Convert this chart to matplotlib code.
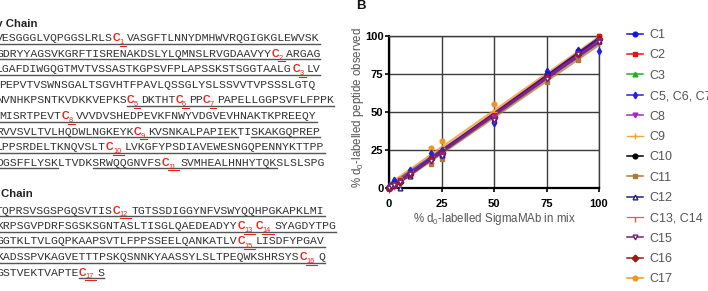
import re
import matplotlib
matplotlib.use("Agg")
import matplotlib.pyplot as plt
import numpy as np
from matplotlib.lines import Line2D

plt.rcParams['font.family'] = ['Liberation Sans', 'DejaVu Sans']
plt.rcParams['mathtext.default'] = 'regular'

# ---------------- data ----------------
heavy_lines = [
    "VESGGGLVQPGGSLRLS{1}VASGFTLNNYDMHWVRQGIGKGLEWVSK",
    "GDRYYAGSVKGRFTISRENAKDSLYLQMNSLRVGDAAVYY{2}ARGAG",
    "LGAFDIWGQGTMVTVSSASTKGPSVFPLAPSSKSTSGGTAALG{3}LV",
    "PEPVTVSWNSGALTSGVHTFPAVLQSSGLYSLSSVVTVPSSSLGTQ",
    "NVNHKPSNTKVDKKVEPKS{5}DKTHT{6}PP{7}PAPELLGGPSVFLFPPK",
    "MISRTPEVT{8}VVVDVSHEDPEVKFNWYVDGVEVHNAKTKPREEQY",
    "RVVSVLTVLHQDWLNGKEYK{9}KVSNKALPAPIEKTISKAKGQPREP",
    "LPPSRDELTKNQVSLT{10}LVKGFYPSDIAVEWESNGQPENNYKTTPP",
    "DGSFFLYSKLTVDKSRWQQGNVFS{11}SVMHEALHNHYTQKSLSLSPG",
]
heavy_underlined = [[(0, 45)], [(0, 45)], [(0, 45)], [], [(19, 45)],
                    [(0, 44)], [(0, 33), (36, 45)], [(0, 45)], [(0, 8), (14, 38)]]
light_lines = [
    "TQPRSVSGSPGQSVTIS{12}TGTSSDIGGYNFVSWYQQHPGKAPKLMI",
    "KRPSGVPDRFSGSKSGNTASLTISGLQAEDEADYY{13}{14}SYAGDYTPG",
    "GGTKLTVLGQPKAAPSVTLFPPSSEELQANKATLV{15}LISDFYPGAV",
    "KADSSPVKAGVETTTPSKQSNNKYAASSYLSLTPEQWKSHRSYS{16}Q",
    "GSTVEKTVAPTE{17}S",
]
light_underlined = [[(0, 45)], [(0, 45)], [(0, 45)], [(0, 45)], [(12, 13)]]

x_pct = [0, 1, 2.5, 5, 10, 20, 25, 50, 75, 90, 100]
series_labels = ["C1", "C2", "C3", "C5, C6, C7", "C8", "C9", "C10", "C11",
                 "C12", "C13, C14", "C15", "C16", "C17"]
y_C1 = [0, 1, 3, 4, 9, 19, 22, 46, 75, 90, 98]
y_C2 = [0, 1, 2, 5, 10, 20, 24, 48, 74, 88, 100]
y_C3 = [0, 1, 2, 5, 9, 18, 23, 47, 73, 88, 98]
y_C5 = [1, 2, 5, 4, 12, 23, 25, 43, 77, 91, 90]
y_C8 = [0, 1, 2, 4, 9, 18, 22, 47, 72, 88, 97]
y_C9 = [0, 2, 3, 6, 10, 21, 26, 50, 74, 88, 99]
y_C10 = [0, 1, 2, 4, 9, 19, 23, 47, 74, 89, 98]
y_C11 = [0, 1, 2, 4, 8, 16, 19, 46, 70, 84, 96]
y_C12 = [0, 2, 3, 0, 8, 21, 22, 45, 76, 91, 97]
y_C13 = [0, 1, 2, 4, 9, 18, 22, 46, 72, 87, 97]
y_C15 = [0, 1, 2, 4, 9, 18, 21, 45, 72, 88, 96]
y_C16 = [0, 1, 2, 4, 9, 19, 23, 47, 73, 88, 98]
y_C17 = [0, 2, 4, 6, 11, 26, 31, 55, 73, 87, 100]
series_values = [y_C1, y_C2, y_C3, y_C5, y_C8, y_C9, y_C10, y_C11,
                 y_C12, y_C13, y_C15, y_C16, y_C17]

# ---------------- styles ----------------
colors = ['#1414e6', '#e61414', '#22b022', '#2424d8', '#a424c8', '#f0a53a',
          '#000000', '#a87d36', '#20208e', '#e05a5a', '#702070', '#a01616', '#f39422']
markers = ['o', 's', '^', 'd', 'v', '+', 'o', 's', '^', 3, 'v', 'D', 'o']
face = ['fill'] * 13
face[8] = 'white'
face[10] = 'white'
lwidths = [1.5] * 13
lwidths[9] = 0.9
lwidths[5] = 1.0
line_z = [3.5, 3.2, 3.1, 3.45, 3.85, 3.0, 3.3, 3.35, 3.4, 3.75, 3.9, 3.8, 3.05]

W, H = 708, 291
fig = plt.figure(figsize=(W / 100, H / 100), dpi=100)


def fx(x):
    return x / W


def fy(y):
    return 1 - y / H


# ---------------- left: sequences ----------------
ADV = 6.9
MONO_PT = ADV / 0.6 * 72 / 100
SEQ_COLOR = '#333333'
RED = '#e8231f'


def sub_w(num):
    return 7.0 if len(num) == 1 else 11.5


def draw_seq(line, ycen, spans, shift=0.0):
    base = ycen + 4
    tokens = re.findall(r'\{(\d+)\}|([A-Z])', line)
    x = -4 + shift
    cells = []
    buf, buf_x = '', x

    def flush(b, bx):
        if b:
            fig.text(fx(bx), fy(base), b, family='Liberation Mono', size=MONO_PT,
                     color=SEQ_COLOR, va='baseline', ha='left')

    for num, ch in tokens:
        if ch:
            if not buf:
                buf_x = x
            buf += ch
            cells.append((x, x + ADV))
            x += ADV
        else:
            flush(buf, buf_x)
            buf = ''
            fig.text(fx(x + ADV / 2), fy(base), 'C', ha='center', va='baseline',
                     weight='bold', size=7.6, color=RED)
            sw = sub_w(num)
            fig.text(fx(x + ADV - 0.3), fy(base + 3), num, ha='left', va='baseline',
                     size=5.3, color=RED)
            fig.add_artist(Line2D([fx(x + ADV - 0.5), fx(x + ADV + sw - 0.8)],
                                  [fy(base + 4.5)] * 2, transform=fig.transFigure,
                                  color=RED, lw=0.8))
            cells.append((x, x + ADV + sw))
            x += ADV + sw
    flush(buf, buf_x)
    for a, b in spans:
        fig.add_artist(Line2D([fx(cells[a][0]), fx(cells[b][1])], [fy(base + 2.6)] * 2,
                              transform=fig.transFigure, color='#555555', lw=1.0))


fig.text(fx(37.5), fy(27), 'Heavy Chain', ha='right', va='baseline', weight='bold',
         size=8.2, color='#222222')
heavy_shift = [0, 0, 0, 3.5, 0, 3.5, 0, 0, 0]
for i, (ln, sp) in enumerate(zip(heavy_lines, heavy_underlined)):
    draw_seq(ln, 37 + 15.6 * i, sp, heavy_shift[i])

fig.text(fx(32.5), fy(197), 'Light Chain', ha='right', va='baseline', weight='bold',
         size=8.2, color='#222222')
for i, (ln, sp) in enumerate(zip(light_lines, light_underlined)):
    draw_seq(ln, 209.5 + 15.5 * i, sp)

# ---------------- right: plot ----------------
fig.text(fx(356), fy(9), 'B', ha='left', va='baseline', weight='bold', size=9.5,
         color='#111111')

ax = fig.add_axes([fx(389), fy(188), 210 / W, 152 / H])
xs = np.array(x_pct, dtype=float)
handles = []
for lab, ys, c, m, fc, lw, z in zip(series_labels, series_values, colors, markers,
                                    face, lwidths, line_z):
    ys = np.array(ys, dtype=float)
    coef = np.polyfit(xs, ys, 1)
    xl = np.array([0, 100])
    ax.plot(xl, np.polyval(coef, xl), color=c, lw=lw, zorder=z, alpha=0.75,
            solid_capstyle='butt')
    mfc = c if fc == 'fill' else 'white'
    ms = 3.4 if m != '+' else 4.5
    ax.plot(xs, ys, linestyle='none', marker=m, ms=ms, mfc=mfc,
            mec=c, mew=1.0, color=c, clip_on=False, zorder=4 + z / 10)
    handles.append(Line2D([], [], color=c, lw=1.1 if lw > 1 else lw, marker=m,
                          ms=ms, mfc=mfc, mec=c, mew=1.0))

ax.set_xlim(0, 100)
ax.set_ylim(0, 100)
ax.set_xticks([0, 25, 50, 75, 100])
ax.set_yticks([0, 25, 50, 75, 100])
ax.set_axisbelow(True)
ax.grid(True, color='#3c3c3c', lw=1.0)
for s in ['left', 'bottom']:
    ax.spines[s].set_color('black')
    ax.spines[s].set_linewidth(1.6)
for s in ['top', 'right']:
    ax.spines[s].set_color('#3c3c3c')
    ax.spines[s].set_linewidth(1.0)
ax.tick_params(axis='both', direction='out', length=3, width=1.2, labelsize=8,
               colors='black')
ax.tick_params(axis='x', pad=5)
ax.tick_params(axis='y', pad=1)
for t in ax.get_xticklabels() + ax.get_yticklabels():
    t.set_fontweight('bold')

ax.set_xlabel('% d$_{0}$-labelled SigmaMAb in mix', fontsize=8.3, color='#555555',
              va='center')
ax.xaxis.set_label_coords(0.5, (188 - 219) / 152)
ax.set_ylabel('% d$_{0}$-labelled peptide observed', fontsize=8.3, color='#555555',
              va='center')
ax.yaxis.set_label_coords((358.5 - 389) / 210, (188 - 107.5) / 152)

fig.legend(handles, series_labels, loc='upper left', bbox_to_anchor=(fx(627), fy(29)),
           frameon=False, fontsize=9, labelcolor='#555555', handlelength=1.25,
           handletextpad=0.55, labelspacing=0.67, borderaxespad=0, borderpad=0)

fig.savefig('out.png', dpi=100)
